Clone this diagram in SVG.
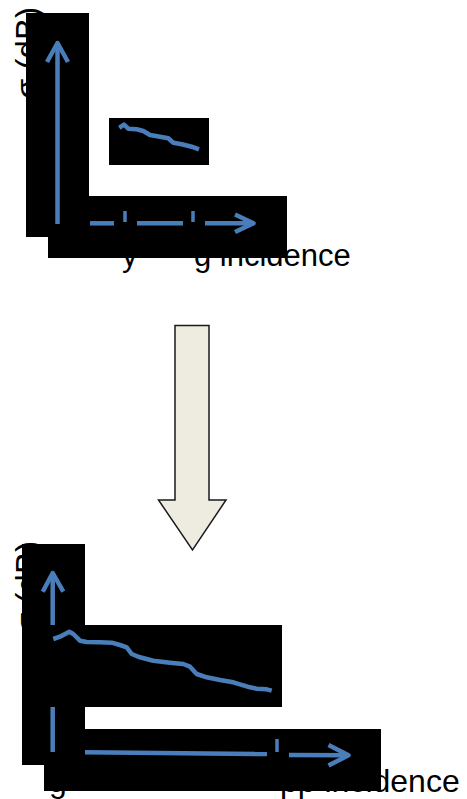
<svg xmlns="http://www.w3.org/2000/svg" width="467" height="799" viewBox="0 0 467 799">
  <style>
    .lbl { font-family: "Liberation Sans", Arial, sans-serif; fill: #000; }
    .mask { fill: #000; }
    .ax { fill: none; stroke: #4a7ebb; stroke-width: 4.5; stroke-linecap: butt; stroke-linejoin: round; }
    .tick { fill: none; stroke: #4a7ebb; stroke-width: 3.5; }
    .curve { fill: none; stroke: #4a7ebb; stroke-width: 4.5; stroke-linecap: butt; stroke-linejoin: round; }
  </style>

  <g id="top-chart">
    <text class="lbl" font-size="33" transform="translate(39,99) rotate(-90)">σ (dB)</text>
    <text class="lbl" font-size="31" x="122" y="266">y<tspan x="194">g incidence</tspan></text>
    <rect class="mask" x="26" y="13" width="63" height="224"/>
    <rect class="mask" x="48" y="196" width="239" height="62"/>
    <rect class="mask" x="109" y="118" width="100" height="47"/>
    <g id="top-axes">
      <line class="ax" x1="57.5" y1="224" x2="57.5" y2="43"/>
      <polyline class="ax" points="47,62 57.5,43 68,62"/>
      <line class="ax" x1="90" y1="223.3" x2="114" y2="223.3"/>
      <line class="tick" x1="125" y1="211" x2="125" y2="222"/>
      <line class="ax" x1="137" y1="223.3" x2="183" y2="223.3"/>
      <line class="tick" x1="193" y1="211" x2="193" y2="222"/>
      <line class="ax" x1="205" y1="223.3" x2="253" y2="223.3"/>
      <polyline class="ax" points="235,214.5 253.5,223.3 235,232"/>
    </g>
    <polyline id="top-curve" class="curve" points="119.3,127.8 124,124.5 128.3,128.7 136.7,129.3 143.3,131 150,135 160,136.7 168.3,138.3 173.3,142.7 181.7,144.3 191.7,146.7 199,149.3"/>
  </g>

  <g id="transform-arrow">
    <path d="M175,325.5 H209 V500 H226 L192.5,550 L158.5,500 H175 Z" fill="#eeece1" stroke="#1a1a1a" stroke-width="1.5" stroke-linejoin="miter"/>
  </g>

  <g id="bottom-chart">
    <text class="lbl" font-size="33" transform="translate(39,633) rotate(-90)">σ (dB)</text>
    <text class="lbl" font-size="32" x="49" y="792">g<tspan x="280">pp incidence</tspan></text>
    <rect class="mask" x="22" y="544" width="63" height="221"/>
    <rect class="mask" x="44" y="729" width="337" height="62"/>
    <g id="bottom-axes">
      <line class="ax" x1="52.7" y1="752" x2="52.7" y2="574"/>
      <polyline class="ax" points="42.7,591.7 52.7,573 63.3,591.7"/>
      <line class="ax" x1="85" y1="752.3" x2="267" y2="754"/>
      <line class="tick" x1="277" y1="739" x2="277" y2="752"/>
      <line class="ax" x1="289" y1="755" x2="348" y2="755.3"/>
      <polyline class="ax" points="328.5,745 348.5,755.3 328.5,765.5"/>
    </g>
    <rect class="mask" x="22" y="625" width="260" height="82"/>
    <polyline id="bottom-curve" class="curve" points="53.3,639 60,636.7 69.3,631.7 73.3,634 80,640.7 86.7,642 100,642.3 111.7,642.7 120,645 126.7,647.3 131.7,654 140,657.3 153.3,660.7 170,662.7 183.3,664 190,666.7 196.7,674 206.7,677.3 220,680 233.3,682.3 250,687.3 256.7,688.7 266.7,689.3 271.7,690.7"/>
  </g>
</svg>
